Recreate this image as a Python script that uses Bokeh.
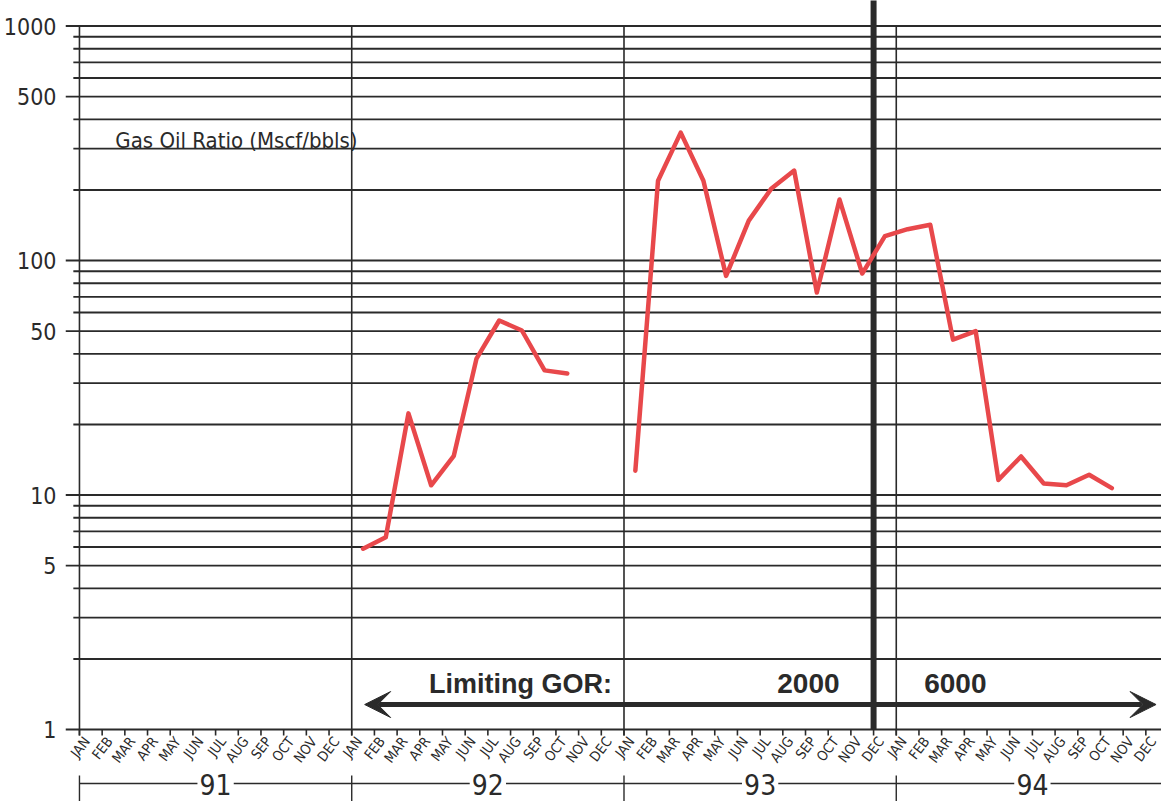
import numpy as np
from bokeh.plotting import figure
from bokeh.models import Range1d, FixedTicker, Arrow, VeeHead
from bokeh.core.properties import value
from bokeh.embed import file_html
from bokeh.resources import INLINE

# ---------------- data ----------------
months = ["JAN", "FEB", "MAR", "APR", "MAY", "JUN", "JUL", "AUG", "SEP", "OCT", "NOV", "DEC"]
years = ["91", "92", "93", "94"]
# Gas oil ratio, monthly (Mscf/bbls)
gor_1992 = [5.9, 6.6, 22.3, 11.0, 14.7, 38.2, 55.5, 50.3, 34.0, 33.0]          # Jan-Oct 92
gor_1993 = [12.7, 219, 351, 219, 86, 148, 203, 242, 73, 182, 88, 127]          # Jan-Dec 93
gor_1994 = [136, 142, 46, 50, 11.6, 14.6, 11.2, 11.0, 12.2, 10.7]              # Jan-Oct 94
y_ticks = [1, 5, 10, 50, 100, 500, 1000]
y_tick_labels = ["1", "5", "10", "50", "100", "500", "1000"]
y_grid = [1, 2, 3, 4, 5, 6, 7, 8, 9, 10, 20, 30, 40, 50, 60, 70, 80, 90,
          100, 200, 300, 400, 500, 600, 700, 800, 900, 1000]
chart_title = "Gas Oil Ratio (Mscf/bbls)"
limit_title = "Limiting GOR:"
limit_values = ["2000", "6000"]
limit_change_month = 35  # DEC 93, month index counted from JAN 91

# ---------------- styles ----------------
INK = "#2a2a2a"
RED = "#e8484b"
COND = "DejaVu Sans Condensed"
BOLD = "Liberation Sans"

n_months = len(months) * len(years)
month_idx = np.arange(n_months)
year_start = np.arange(len(years)) * len(months)
year_center = year_start + len(months) / 2

x_1992 = 12 + np.arange(len(gor_1992)) + 0.5
gor_9394 = gor_1993 + gor_1994
x_9394 = 24 + np.arange(len(gor_9394)) + 0.5

X0, X1 = -0.6154, 47.69
p = figure(width=1161, height=801,
           x_range=Range1d(X0, X1), y_range=Range1d(0.4932, 1284.9),
           y_axis_type="log", x_axis_location=None,
           output_backend="svg", toolbar_location=None,
           min_border_left=62, min_border_right=0, min_border_top=0, min_border_bottom=0)
p.outline_line_color = None
p.background_fill_color = "white"
p.border_fill_color = "white"

# y axis (labels only; tick marks are the extended grid lines)
ax = p.yaxis[0]
ax.ticker = FixedTicker(ticks=y_ticks, minor_ticks=[])
ax.major_label_overrides = {t: l for t, l in zip(y_ticks, y_tick_labels)}
ax.axis_line_color = None
ax.major_tick_line_color = None
ax.minor_tick_line_color = None
ax.major_tick_in = 0
ax.major_tick_out = 0
ax.major_label_standoff = 9
ax.major_label_text_font = COND
ax.major_label_text_font_size = "23px"
ax.major_label_text_color = INK

p.xgrid.visible = False
p.ygrid.visible = False

# horizontal grid lines: labelled ones reach further left (tick), others short tick
major_mask = [v in y_ticks for v in y_grid]
gx0 = [X0 if m else -0.27 for m in major_mask]
p.segment(x0=gx0, y0=y_grid, x1=[X1] * len(y_grid), y1=y_grid, line_color=INK, line_width=1.9)

# vertical year lines (incl. left axis line)
p.segment(x0=year_start, y0=[0.943] * len(years), x1=year_start, y1=[max(y_grid)] * len(years),
          line_color=INK, line_width=1.6)
# month ticks
p.segment(x0=month_idx, y0=[1] * n_months, x1=month_idx, y1=[0.943] * n_months,
          line_color=INK, line_width=1.6)
# thick limit-change line
p.segment(x0=[limit_change_month], y0=[1], x1=[limit_change_month], y1=[1e4],
          line_color=INK, line_width=6)

# data lines
p.line(x_1992, gor_1992, line_color=RED, line_width=4.5, line_join="round", line_cap="round")
p.line(x_9394, gor_9394, line_color=RED, line_width=4.5, line_join="round", line_cap="round")

# month labels
p.text(x=month_idx + 0.32, y=[0.915] * n_months, text=months * len(years), angle=0.92,
       text_align="right", text_baseline="middle", text_font=value(COND),
       text_font_size="14px", text_color=INK)

# year bands below
gap = 0.8
p.segment(x0=year_start, y0=[0.5886] * len(years), x1=year_center - gap, y1=[0.5886] * len(years),
          line_color=INK, line_width=1.4)
p.segment(x0=year_center + gap, y0=[0.5886] * len(years), x1=year_start + len(months),
          y1=[0.5886] * len(years), line_color=INK, line_width=1.4)
p.segment(x0=year_start, y0=[0.637] * len(years), x1=year_start, y1=[0.3] * len(years),
          line_color=INK, line_width=1.4)
p.text(x=year_center, y=[0.528] * len(years), text=years, text_align="center",
       text_baseline="bottom", text_font=value(COND), text_font_size="28px", text_color=INK)

# chart title
p.text(x=[1.58], y=[326], text=[chart_title], text_align="left", text_baseline="alphabetic",
       text_font=value(COND), text_font_size="22px", text_color=INK)

# limiting GOR annotation
p.add_layout(Arrow(start=VeeHead(size=26, fill_color=INK, line_color=INK),
                   end=VeeHead(size=26, fill_color=INK, line_color=INK),
                   x_start=12.57, y_start=1.278, x_end=47.45, y_end=1.278,
                   line_width=5, line_color=INK))
p.text(x=[23.47], y=[1.571], text=[limit_title], text_align="right", text_baseline="alphabetic",
       text_font=value(BOLD), text_font_style="bold", text_font_size="27px", text_color=INK)
p.text(x=[limit_change_month - 1.5], y=[1.571], text=[limit_values[0]], text_align="right",
       text_baseline="alphabetic", text_font=value(BOLD), text_font_style="bold",
       text_font_size="28px", text_color=INK)
p.text(x=[limit_change_month + 2.23], y=[1.571], text=[limit_values[1]], text_align="left",
       text_baseline="alphabetic", text_font=value(BOLD), text_font_style="bold",
       text_font_size="28px", text_color=INK)

open("out.html", "w").write(file_html(p, INLINE))
